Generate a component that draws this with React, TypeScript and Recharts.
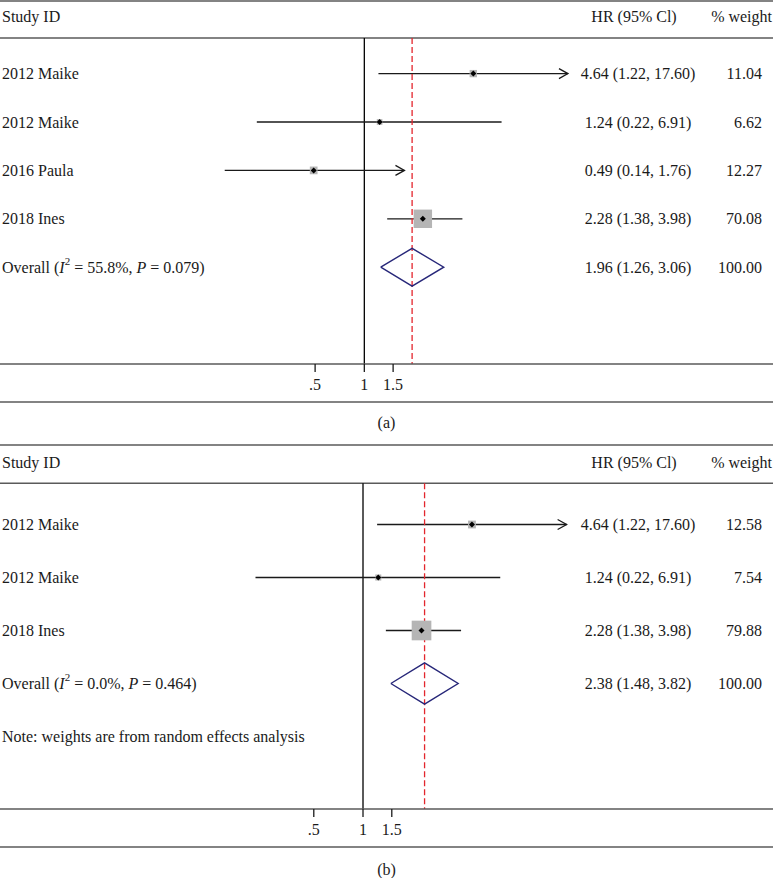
import React from 'react';
import { ComposedChart, XAxis, YAxis, Scatter, ReferenceLine } from 'recharts';

const FONT = '"Liberation Serif", "Times New Roman", serif';

// ---------- Panel (a) data ----------
const studiesA = ['2012 Maike', '2012 Maike', '2016 Paula', '2018 Ines'];
const hrA = [4.64, 1.24, 0.49, 2.28];
const loA = [1.22, 0.22, 0.14, 1.38];
const hiA = [17.6, 6.91, 1.76, 3.98];
const weightA = [11.04, 6.62, 12.27, 70.08];
const arrowA = [true, false, true, false];
const overallA = [1.96, 1.26, 3.06];
const i2A = '55.8%';
const pA = '0.079';

// ---------- Panel (b) data ----------
const studiesB = ['2012 Maike', '2012 Maike', '2018 Ines'];
const hrB = [4.64, 1.24, 2.28];
const loB = [1.22, 0.22, 1.38];
const hiB = [17.6, 6.91, 3.98];
const weightB = [12.58, 7.54, 79.88];
const arrowB = [true, false, false];
const overallB = [2.38, 1.48, 3.82];
const i2B = '0.0%';
const pB = '0.464';
const noteB = 'Note: weights are from random effects analysis';

const xTicks = [0.5, 1, 1.5];
const tickLabel = (v: number) => (v === 0.5 ? '.5' : String(v));

const fmt = (h: number, l: number, u: number) =>
  `${h.toFixed(2)} (${l.toFixed(2)}, ${u.toFixed(2)})`;

const INK = '#1a1a1a';
const FRAME = '#5a5a5a';

type PanelProps = {
  top: number;
  height: number;
  studies: string[];
  hr: number[];
  lo: number[];
  hi: number[];
  weights: number[];
  arrows: boolean[];
  overall: number[];
  i2: string;
  p: string;
  note?: string;
  xDomain: [number, number];
  yDomain: [number, number];
  headerLineY: number;
  bottomLineY: number;
  caption: string;
  captionTop: number;
};

function Panel(props: PanelProps) {
  const {
    top, height, studies, hr, lo, hi, weights, arrows, overall, i2, p, note,
    xDomain, yDomain, headerLineY, bottomLineY, caption, captionTop,
  } = props;
  const n = studies.length;
  const overallRow = n + 1;
  const diamondH = 0.39;

  const rows = studies.map((s, i) => ({
    x: hr[i],
    y: i + 1,
    weight: weights[i],
    kind: 'study',
    label: s,
    ci: fmt(hr[i], lo[i], hi[i]),
    w: weights[i].toFixed(2),
  }));
  const textRows: any[] = [
    ...rows,
    { x: 1, y: overallRow, kind: 'overall', ci: fmt(overall[0], overall[1], overall[2]), w: '100.00' },
  ];
  if (note) textRows.push({ x: 1, y: overallRow + 1, kind: 'note', label: note });

  const diamond = [
    { x: overall[1], y: overallRow },
    { x: overall[0], y: overallRow - diamondH },
    { x: overall[2], y: overallRow },
    { x: overall[0], y: overallRow + diamondH },
    { x: overall[1], y: overallRow },
  ];

  const squareShape = (sp: any) => {
    const { cx, cy, payload } = sp;
    const side = 2.2 * Math.sqrt(payload.weight);
    const d = 3;
    return (
      <g>
        <rect x={cx - side / 2} y={cy - side / 2} width={side} height={side} fill="#b5b5b5" />
        <polygon
          points={`${cx - d},${cy} ${cx},${cy - d} ${cx + d},${cy} ${cx},${cy + d}`}
          fill="#000"
        />
      </g>
    );
  };

  const textShape = (sp: any) => {
    const { cy, payload } = sp;
    if (payload.kind === 'note') {
      return (
        <text x={2} y={cy} dominantBaseline="central" fontFamily={FONT} fontSize={16} fill={INK}>
          {payload.label}
        </text>
      );
    }
    return (
      <g fontFamily={FONT} fontSize={16} fill={INK}>
        <text x={2} y={cy} dominantBaseline="central">
          {payload.kind === 'overall' ? (
            <>
              {'Overall ('}
              <tspan fontStyle="italic">I</tspan>
              <tspan dy={-6} fontSize={11}>2</tspan>
              <tspan dy={6}>{` = ${i2}, `}</tspan>
              <tspan fontStyle="italic">P</tspan>
              {` = ${p})`}
            </>
          ) : (
            payload.label
          )}
        </text>
        <text x={638} y={cy} dominantBaseline="central" textAnchor="middle">{payload.ci}</text>
        <text x={762} y={cy} dominantBaseline="central" textAnchor="end">{payload.w}</text>
      </g>
    );
  };

  const ciShape = (arrow: boolean) => (lp: any) => {
    const { x1, y1, x2, y2 } = lp;
    return (
      <g>
        <line x1={x1} y1={y1} x2={x2} y2={y2} stroke={INK} strokeWidth={1.3} />
        {arrow && (
          <polyline
            points={`${x2 - 9},${y2 - 5} ${x2},${y2} ${x2 - 9},${y2 + 5}`}
            fill="none"
            stroke={INK}
            strokeWidth={1.3}
          />
        )}
      </g>
    );
  };

  const headerShape = (lp: any) => {
    const { x1, y1, x2 } = lp;
    const ty = y1 - 21;
    return (
      <g>
        <line x1={x1} y1={y1} x2={x2} y2={y1} stroke={FRAME} strokeWidth={1.6} />
        <g fontFamily={FONT} fontSize={16} fill={INK}>
          <text x={2} y={ty} dominantBaseline="central">Study ID</text>
          <text x={634} y={ty} dominantBaseline="central" textAnchor="middle">HR (95% Cl)</text>
          <text x={772} y={ty} dominantBaseline="central" textAnchor="end">% weight</text>
        </g>
      </g>
    );
  };

  return (
    <>
      <div style={{ position: 'absolute', left: 0, top }}>
        <ComposedChart
          width={773}
          height={height}
          margin={{ top: 1, right: 0, bottom: 3, left: 0 }}
        >
          <XAxis
            dataKey="x"
            type="number"
            scale="log"
            domain={xDomain}
            allowDataOverflow
            ticks={xTicks}
            tickFormatter={tickLabel}
            interval={0}
            height={38}
            tickSize={8}
            tickMargin={7}
            axisLine={{ stroke: FRAME, strokeWidth: 1.6 }}
            tickLine={{ stroke: INK, strokeWidth: 1.3 }}
            tick={{ fill: INK, fontSize: 16, fontFamily: FONT }}
          />
          <YAxis dataKey="y" type="number" domain={yDomain} reversed hide allowDataOverflow />

          <ReferenceLine y={yDomain[0]} stroke={FRAME} strokeWidth={1.6} ifOverflow="visible" />
          <ReferenceLine y={headerLineY} shape={headerShape} ifOverflow="visible" />
          <ReferenceLine y={bottomLineY} stroke={FRAME} strokeWidth={1.6} ifOverflow="visible" />

          <ReferenceLine
            segment={[{ x: 1, y: headerLineY }, { x: 1, y: yDomain[1] }]}
            stroke="#000"
            strokeWidth={1.3}
            ifOverflow="visible"
          />

          {studies.map((s, i) => (
            <ReferenceLine
              key={`ci-${i}`}
              segment={[{ x: lo[i], y: i + 1 }, { x: hi[i], y: i + 1 }]}
              shape={ciShape(arrows[i])}
              ifOverflow="visible"
            />
          ))}

          <Scatter data={rows} shape={squareShape} isAnimationActive={false} />

          <ReferenceLine
            segment={[{ x: overall[0], y: headerLineY }, { x: overall[0], y: yDomain[1] }]}
            stroke="#e3262d"
            strokeWidth={1.3}
            strokeDasharray="6 3"
            ifOverflow="visible"
          />

          <Scatter
            data={diamond}
            line={{ stroke: '#272779', strokeWidth: 1.4 }}
            shape={() => <g />}
            isAnimationActive={false}
          />

          <Scatter data={textRows} shape={textShape} isAnimationActive={false} />
        </ComposedChart>
      </div>
      <div
        style={{
          position: 'absolute',
          left: 0,
          top: captionTop,
          width: 773,
          textAlign: 'center',
          fontFamily: FONT,
          fontSize: 16,
          lineHeight: '20px',
          color: INK,
        }}
      >
        {caption}
      </div>
    </>
  );
}

export default function App() {
  return (
    <div style={{ position: 'absolute', left: 0, top: 0, width: 773, height: 878, background: '#fff' }}>
      <Panel
        top={0}
        height={405}
        studies={studiesA}
        hr={hrA}
        lo={loA}
        hi={hiA}
        weights={weightA}
        arrows={arrowA}
        overall={overallA}
        i2={i2A}
        p={pA}
        xDomain={[0.00591, 316]}
        yDomain={[-0.5, 7]}
        headerLineY={0.264}
        bottomLineY={7.785}
        caption="(a)"
        captionTop={413}
      />
      <Panel
        top={444}
        height={406}
        studies={studiesB}
        hr={hrB}
        lo={loB}
        hi={hiB}
        weights={weightB}
        arrows={arrowB}
        overall={overallB}
        i2={i2B}
        p={pB}
        note={noteB}
        xDomain={[0.00602, 322]}
        yDomain={[-0.5, 6.368]}
        headerLineY={0.223}
        bottomLineY={7.085}
        caption="(b)"
        captionTop={860}
      />
    </div>
  );
}
